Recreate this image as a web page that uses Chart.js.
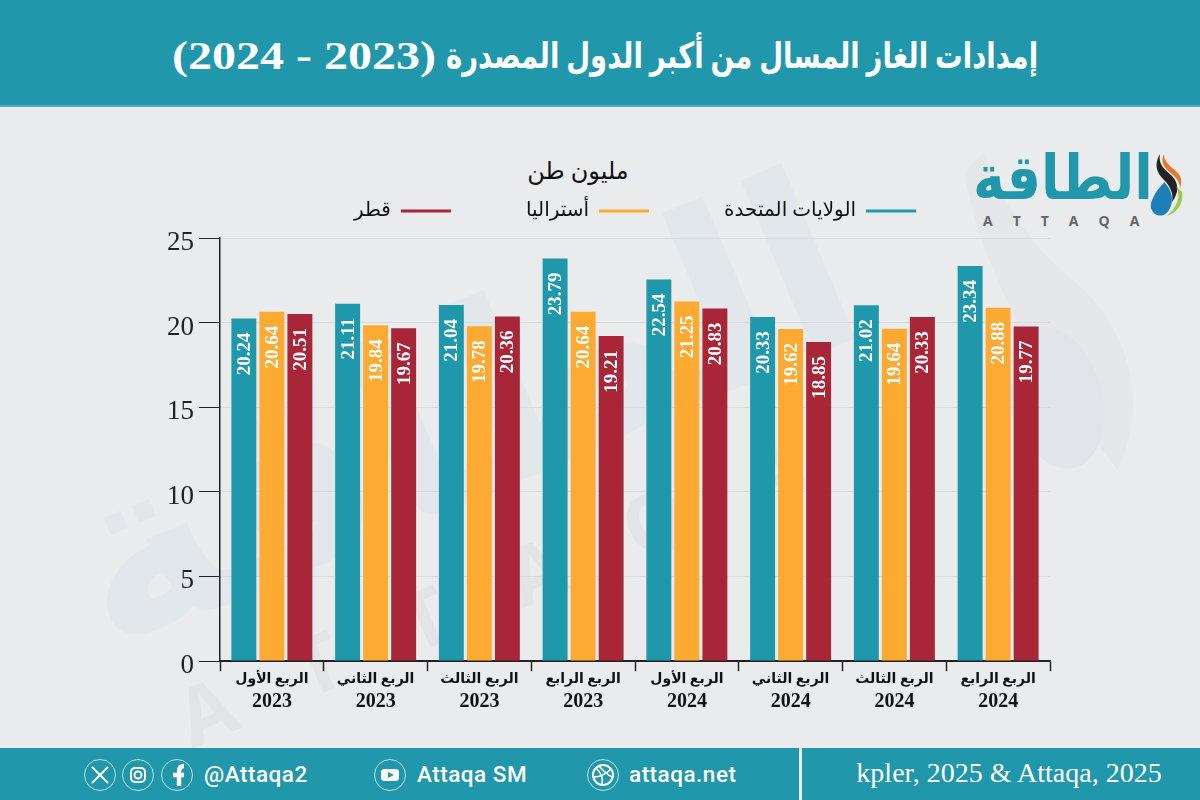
<!DOCTYPE html>
<html lang="ar">
<head>
<meta charset="utf-8">
<title>إمدادات الغاز المسال</title>
<script src="https://cdn.jsdelivr.net/npm/chart.js@4"></script>
<style>
  * { box-sizing: border-box; }
  html, body { margin: 0; padding: 0; }
  body { width: 1200px; height: 800px; position: relative; overflow: hidden; background: #e9ebed; font-family: "Liberation Serif", "DejaVu Sans", serif; }
  #header { position: absolute; left: 0; top: 0; width: 1200px; height: 107px; background: #2097ab; color: #fff; font-weight: bold; border-bottom: 2px solid #4fb0c0; }
  #header span { position: absolute; white-space: nowrap; top: 32px; line-height: 48px; }
  #titulo-ar { right: 162px; font-size: 36px; transform: scaleX(.765); transform-origin: right center; direction: rtl; }
  #titulo-num { left: 172px; font-size: 40px; transform: scaleX(1.2); transform-origin: left center; }
  #footer { position: absolute; left: 0; top: 748px; width: 1200px; height: 52px; background: #2097ab; color: #fff; }
  #footer .sep { position: absolute; left: 799px; top: 0; width: 3px; height: 52px; background: #e9ebed; }
  #footer .source { position: absolute; left: 810px; width: 398px; top: 0; text-align: center; line-height: 50px; font-size: 28px; }
  #footer .handle { position: absolute; top: 0; line-height: 52px; font-family: Roboto, sans-serif; font-weight: 500; font-size: 22.5px; letter-spacing: .5px; }
  #footer svg { position: absolute; left: 0; top: 0; }
  #unit { position: absolute; left: 478px; top: 157px; width: 200px; text-align: center; font-size: 24px; color: #111; direction: rtl; }
  #chart-wrap { position: absolute; left: 0; top: 106px; width: 1200px; height: 642px; }
  .wm { position: absolute; white-space: nowrap; pointer-events: none; }
  #wm-ar { left: 75px; top: 430px; font: bold 250px "DejaVu Sans"; color: #e1e7ea; transform: rotate(-23deg); transform-origin: left center; }
  #wm-en { left: 180px; top: 665px; font: bold 80px "Open Sans", sans-serif; color: #e2e4e6; letter-spacing: 70px; transform: rotate(-23deg); transform-origin: left center; }
  #logo-ar { left: 973px; top: 146px; font: bold 54px "DejaVu Sans"; color: #2097ab; transform: scaleY(1.15); transform-origin: left center; }
  #logo-en { left: 983px; top: 211px; font: bold 14px "Open Sans", sans-serif; color: #666; letter-spacing: 20px; }
</style>
</head>
<body>
<svg class="wm" style="left:0;top:0" width="1200" height="800">
  <path d="M965 175 C985 290 1060 400 1118 470 C1150 400 1130 320 1060 270 C1030 240 1000 200 985 152 C975 160 968 165 965 175Z" fill="#e5e7e9"/>
  <ellipse cx="1056" cy="398" rx="46" ry="72" fill="#e1e4e8" transform="rotate(-15 1056 398)"/>
</svg>
<div id="wm-ar" class="wm">الطاقة</div>
<div id="wm-en" class="wm">ATTAQA</div>

<div id="header">
  <span id="titulo-ar">إمدادات الغاز المسال من أكبر الدول المصدرة</span>
  <span id="titulo-num">(2024 - 2023)</span>
</div>
<div id="unit">مليون طن</div>
<div id="logo-ar" class="wm">الطاقة</div>
<div id="logo-en" class="wm">ATTAQA</div>
<svg class="wm" style="left:1146px;top:152px" width="40" height="72">
  <path d="M8 44 C12 36 16 34 18 30 C26 38 28 48 24 56 C20 66 8 66 5 56 C4 52 6 48 8 44Z" fill="#1c7fb8"/>
  <path d="M14 2 C8 12 10 20 18 28 C24 34 28 42 26 50 C34 40 32 30 26 24 C20 18 12 14 14 2Z" fill="#222"/>
  <path d="M18 2 C14 10 18 16 26 22 C30 26 34 30 34 36 C38 26 32 20 26 16 C22 12 18 8 18 2Z" fill="#e8762c"/>
  <path d="M30 34 C36 44 30 58 20 64 C30 62 38 52 36 40Z" fill="#9cc94a"/>
</svg>

<div id="chart-wrap"><canvas id="grafico" width="1200" height="642"></canvas></div>

<div id="footer">
  <svg width="800" height="52" fill="none" stroke="#fff">
    <g stroke-width=".7">
      <circle cx="100" cy="27" r="15.5"/><circle cx="138" cy="27" r="15.5"/><circle cx="177" cy="27" r="15.5"/>
      <circle cx="390" cy="27" r="15.5"/><circle cx="603" cy="27" r="15.5"/>
    </g>
    <path d="M92 19 L108 35 M108 19 L92 35" stroke-width="2"/>
    <rect x="131" y="20" width="14" height="14" rx="4" stroke-width="2"/><circle cx="138" cy="27" r="3.5" stroke-width="2"/>
    <path d="M179 38 V24 Q179 18 184 18 M173 27 H184" stroke-width="4.4"/>
    <rect x="381" y="21" width="18" height="12" rx="3.5" fill="#fff" stroke="none"/>
    <path d="M388 24 L394 27 L388 30Z" fill="#2097ab" stroke="none"/>
    <circle cx="603" cy="27" r="10" stroke-width="2"/>
    <path d="M596 20 Q604 27 602 37 M594 29 Q603 29 611 21 M599 18 Q606 26 612 29" stroke-width="1.6"/>
  </svg>
  <div class="handle" style="left:204px">@Attaqa2</div>
  <div class="handle" style="left:417px">Attaqa SM</div>
  <div class="handle" style="left:629px">attaqa.net</div>
  <div class="sep"></div>
  <div class="source">kpler, 2025 &amp; Attaqa, 2025</div>
</div>

<script>
const arabe = '"Liberation Serif", "DejaVu Sans", serif';

const rubro = ["الربع الأول", "الربع الثاني", "الربع الثالث", "الربع الرابع", "الربع الأول", "الربع الثاني", "الربع الثالث", "الربع الرابع"];
const anos = ["2023", "2023", "2023", "2023", "2024", "2024", "2024", "2024"];
const eixoY = [0, 5, 10, 15, 20, 25];

const estadosUnidos = [20.24, 21.11, 21.04, 23.79, 22.54, 20.33, 21.02, 23.34];
const australia = [20.64, 19.84, 19.78, 20.64, 21.25, 19.62, 19.64, 20.88];
const qatar = [20.51, 19.67, 20.36, 19.21, 20.83, 18.85, 20.33, 19.77];

const rotuloBarras = {
  id: "rotuloBarras",
  afterDatasetsDraw(chart) {
    const ctx = chart.ctx;
    chart.data.datasets.forEach((ds, i) => {
      chart.getDatasetMeta(i).data.forEach((bar, j) => {
        ctx.save();
        ctx.translate(bar.x, bar.y + 14);
        ctx.rotate(-Math.PI / 2);
        ctx.fillStyle = "#fff";
        ctx.font = "bold 19px " + arabe;
        ctx.textAlign = "right";
        ctx.textBaseline = "middle";
        ctx.fillText(ds.data[j].toFixed(2), 0, 1);
        ctx.restore();
      });
    });
  }
};

// folga entre a legenda e o grafico
const folgaLegenda = {
  id: "folgaLegenda",
  beforeInit(chart) {
    const fit = chart.legend.fit;
    chart.legend.fit = function () {
      fit.call(this);
      this.height += 7;
    };
  }
};

function serie(label, data, cor) {
  return { label, data, backgroundColor: cor, borderColor: cor, categoryPercentage: 0.81, barPercentage: 0.89 };
}

new Chart(document.getElementById("grafico"), {
  type: "bar",
  data: {
    labels: rubro,
    datasets: [
      serie("الولايات المتحدة", estadosUnidos, "#1f98ac"),
      serie("أستراليا", australia, "#fdaa33"),
      serie("قطر", qatar, "#a82638")
    ]
  },
  plugins: [rotuloBarras, folgaLegenda],
  options: {
    responsive: false,
    animation: false,
    layout: { padding: { top: 20, right: 150, bottom: 0, left: 0 } },
    plugins: {
      tooltip: { enabled: false },
      legend: {
        position: "top",
        fullSize: false,
        rtl: true,
        textDirection: "rtl",
        labels: {
          boxWidth: 50,
          boxHeight: 3,
          padding: 75,
          color: "#111",
          font: { family: arabe, size: 20 }
        }
      }
    },
    scales: {
      x: {
        afterFit(scale) { scale.height = 29; },
        border: { color: "#222", width: 1.5 },
        grid: { drawOnChartArea: false, offset: true, tickLength: 10, tickColor: "#222", tickWidth: 1.5 },
        ticks: {
          autoSkip: false,
          maxRotation: 0,
          padding: 0,
          color: "#111",
          font: { family: arabe, size: 14, weight: "bold" }
        }
      },
      anos: {
        type: "category",
        position: "bottom",
        labels: anos,
        offset: true,
        afterFit(scale) { scale.height = 58; },
        border: { display: false },
        grid: { display: false, drawTicks: false, tickLength: 0 },
        ticks: {
          autoSkip: false,
          maxRotation: 0,
          padding: 0,
          color: "#111",
          font: { family: arabe, size: 20, weight: "bold" }
        }
      },
      y: {
        min: 0,
        max: 25,
        afterFit(scale) { scale.width = 220; },
        afterBuildTicks(scale) { scale.ticks = eixoY.map(v => ({ value: v })); },
        border: { color: "#222", width: 1.5 },
        grid: {
          color: c => c.tick.value === 0 ? "#222" : "#d8dadd",
          tickLength: 21,
          tickColor: "#222",
          tickWidth: 1
        },
        ticks: {
          padding: 5,
          labelOffset: 5,
          color: "#222",
          font: { family: arabe, size: 27 }
        }
      }
    }
  }
});
</script>
</body>
</html>
